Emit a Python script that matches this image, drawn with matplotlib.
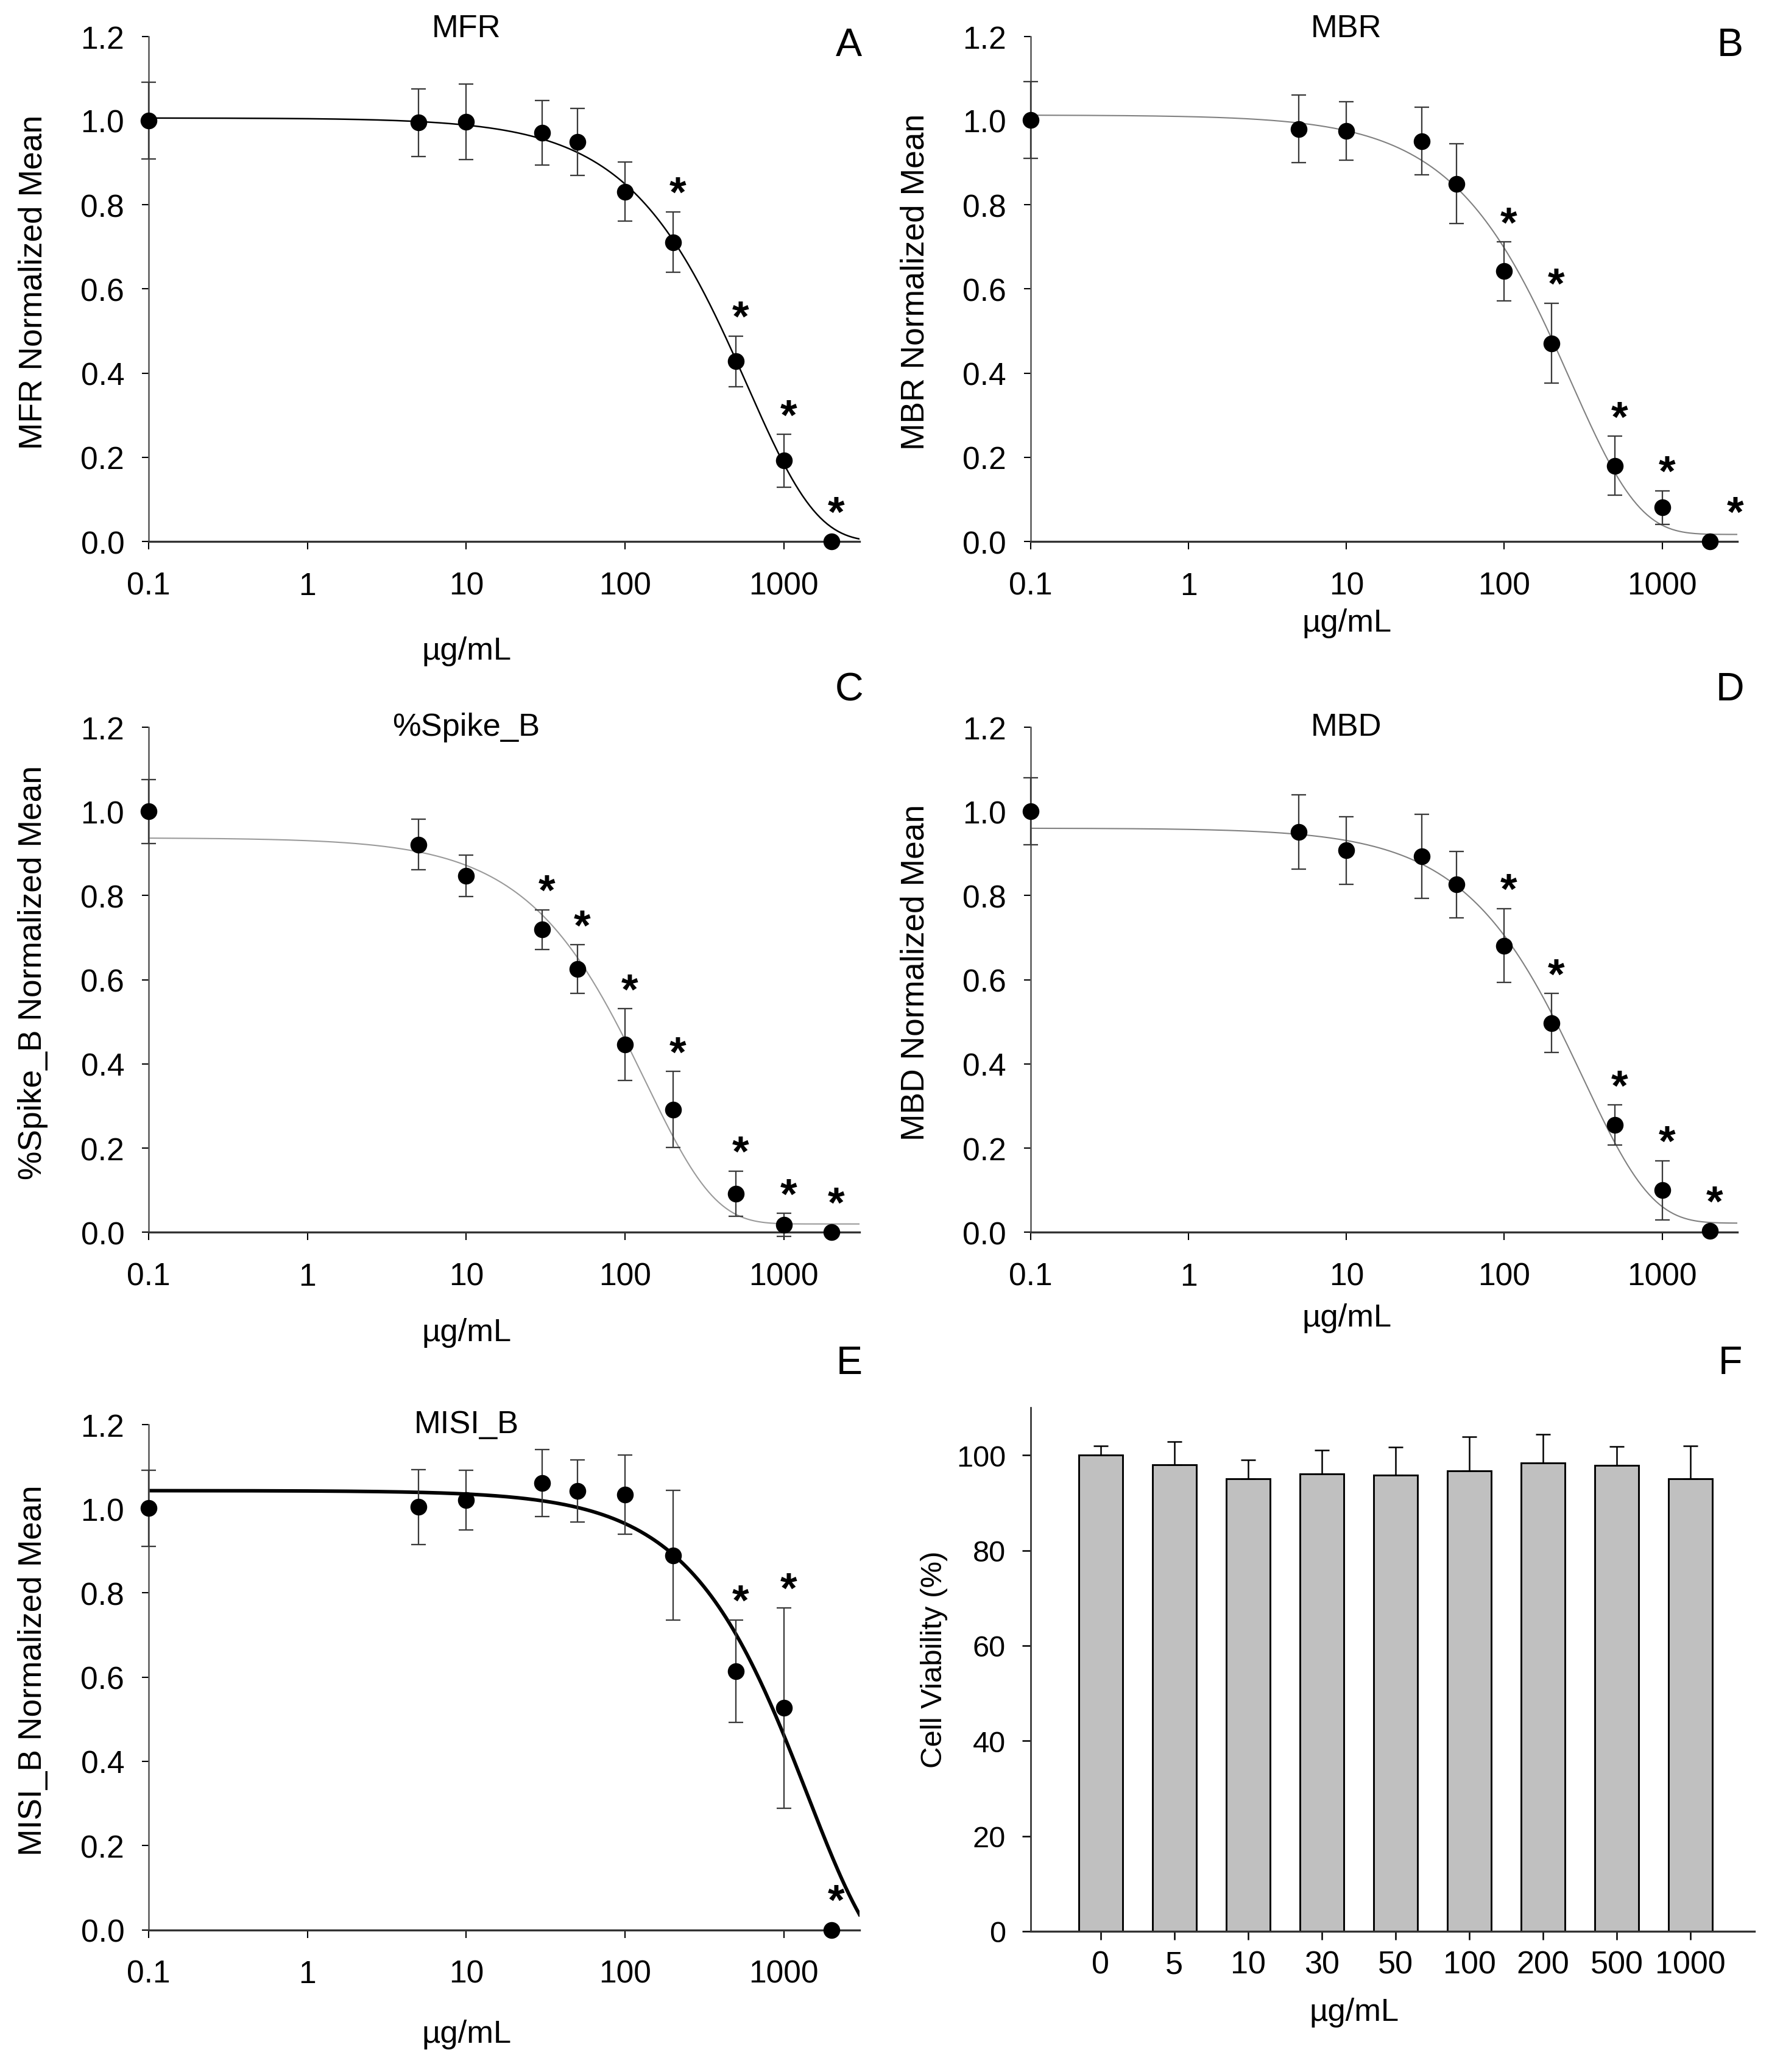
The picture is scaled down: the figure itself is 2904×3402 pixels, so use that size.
import numpy as np
import matplotlib
matplotlib.use('Agg')
import matplotlib.pyplot as plt
from matplotlib.transforms import offset_copy

plt.rcParams['font.family'] = ['Liberation Sans', 'DejaVu Sans']

# doses in ug/mL (0.1 stands for the untreated control on the log axis)
dose = [0.1, 5, 10, 30, 50, 100, 200, 500, 1000, 2000]

# A - MFR
mfr_mean = [1.000, 0.995, 0.997, 0.971, 0.949, 0.831, 0.711, 0.428, 0.192, 0.0]
mfr_err = [0.091, 0.080, 0.090, 0.077, 0.080, 0.070, 0.072, 0.060, 0.063, 0.0]
mfr_sig = [200, 500, 1000, 2000]
mfr_fit = [1.006, 0.0, 590.0]        # top, bottom, decay constant

# B - MBR
mbr_mean = [1.001, 0.980, 0.975, 0.951, 0.850, 0.642, 0.471, 0.180, 0.081, 0.0]
mbr_err = [0.091, 0.080, 0.069, 0.080, 0.095, 0.070, 0.095, 0.070, 0.040, 0.0]
mbr_sig = [100, 200, 500, 1000, 2000]
mbr_fit = [1.013, 0.017, 262.0]

# C - %Spike_B
spk_mean = [1.000, 0.921, 0.847, 0.719, 0.625, 0.446, 0.292, 0.092, 0.018, 0.0]
spk_err = [0.076, 0.060, 0.049, 0.047, 0.058, 0.085, 0.090, 0.054, 0.027, 0.0]
spk_sig = [30, 50, 100, 200, 500, 1000, 2000]
spk_fit = [0.937, 0.020, 135.0]

# D - MBD
mbd_mean = [1.000, 0.951, 0.907, 0.893, 0.826, 0.681, 0.497, 0.255, 0.100, 0.003]
mbd_err = [0.080, 0.088, 0.080, 0.100, 0.079, 0.088, 0.070, 0.048, 0.070, 0.0]
mbd_sig = [100, 200, 500, 1000, 2000]
mbd_fit = [0.960, 0.022, 315.0]

# E - MISI_B
misi_mean = [1.001, 1.004, 1.021, 1.061, 1.042, 1.034, 0.889, 0.614, 0.527, 0.0]
misi_err = [0.090, 0.089, 0.071, 0.080, 0.074, 0.094, 0.154, 0.122, 0.238, 0.0]
misi_sig = [500, 1000, 2000]
misi_fit = [1.043, -0.100, 1410.0]

# F - cell viability
via_labels = ['0', '5', '10', '30', '50', '100', '200', '500', '1000']
via_mean = [100.0, 98.0, 95.0, 96.1, 95.8, 96.7, 98.4, 97.8, 95.0]
via_err = [2.0, 4.9, 4.0, 4.9, 5.9, 7.1, 6.0, 4.0, 7.0]

panels = [
    # letter, rect, title, data, line colour, line width, xlabel y, title y
    ('A', [0.0841, 0.7384, 0.4018, 0.2438], 'MFR', mfr_mean, mfr_err, mfr_sig, mfr_fit, 'black', 0.6, -0.216, 1.016),
    ('B', [0.5826, 0.7384, 0.3996, 0.2438], 'MBR', mbr_mean, mbr_err, mbr_sig, mbr_fit, '#808080', 0.5, -0.161, 1.016),
    ('C', [0.0841, 0.4051, 0.4018, 0.2438], '%Spike_B', spk_mean, spk_err, spk_sig, spk_fit, '#9a9a9a', 0.5, -0.198, 1.0),
    ('D', [0.5826, 0.4051, 0.3996, 0.2438], 'MBD', mbd_mean, mbd_err, mbd_sig, mbd_fit, '#808080', 0.5, -0.169, 1.0),
    ('E', [0.0841, 0.0686, 0.4018, 0.2438], 'MISI_B', misi_mean, misi_err, misi_sig, misi_fit, 'black', 1.4, -0.206, 1.0),
]
letter_pos = {'A': (0.480, 0.978), 'B': (0.978, 0.978), 'C': (0.480, 0.667),
              'D': (0.978, 0.667), 'E': (0.480, 0.342), 'F': (0.978, 0.342)}

fig = plt.figure(figsize=(9.68, 11.3433), dpi=300)

for letter, rect, title, mean, err, sig, fit, lc, lw, xl_y, t_y in panels:
    ax = fig.add_axes(rect)
    ax.set_xscale('log')
    ax.set_xlim(0.1, 3000)
    ax.set_ylim(0, 1.2)

    # fitted decay curve
    top, bottom, k = fit
    xs = np.geomspace(0.1, 3000, 400)
    ax.plot(xs, bottom + (top - bottom) * np.exp(-xs / k), color=lc, lw=lw, zorder=2)

    ax.errorbar(dose, mean, yerr=err, fmt='o', color='black', ms=5.6,
                ecolor='#3a3a3a', elinewidth=0.55, capsize=2.8, capthick=0.55,
                clip_on=False, zorder=3)

    # significance stars
    tr = offset_copy(ax.transData, fig=fig, y=-0.58 * 17, units='points')
    for d in sig:
        i = dose.index(d)
        ys = mean[i] + max(err[i], 0.025) + 0.072
        xs_ = d * 1.07
        if letter == 'B' and d == 2000:
            xs_ = d * 1.45
        ax.text(xs_, ys, '*', fontsize=17, fontweight='bold', ha='center',
                va='baseline', transform=tr, clip_on=False)

    ax.set_xticks([0.1, 1, 10, 100, 1000])
    ax.set_xticklabels(['0.1', '1', '10', '100', '1000'])
    ax.minorticks_off()
    ax.set_yticks(np.arange(0, 1.21, 0.2))
    ax.set_yticklabels(['%.1f' % v for v in np.arange(0, 1.21, 0.2)])
    ax.tick_params(axis='both', direction='out', width=0.5, labelsize=12.4)
    ax.tick_params(axis='x', length=3.0, pad=8.6)
    ax.tick_params(axis='y', length=2.6, pad=7)
    for s in ['top', 'right']:
        ax.spines[s].set_visible(False)
    ax.spines['left'].set_color('#555555')
    ax.spines['left'].set_linewidth(0.6)
    ax.spines['bottom'].set_color('#333333')
    ax.spines['bottom'].set_linewidth(0.8)

    ax.text(10, t_y, title, transform=ax.get_xaxis_transform(), ha='center',
            va='center', fontsize=12.6)
    ax.set_xlabel('µg/mL', fontsize=12.6)
    ax.xaxis.set_label_coords(0.447, xl_y)
    ax.xaxis.label.set_va('center')
    ax.set_ylabel(title + ' Normalized Mean', fontsize=12.8)
    ax.yaxis.set_label_coords(-0.163, 0.515)
    ax.yaxis.label.set_va('center')

# F - bar chart
ax = fig.add_axes([0.5826, 0.0679, 0.4092, 0.2527])
pos = np.arange(len(via_labels))
ax.bar(pos, via_mean, width=0.6, color='#c0c0c0', edgecolor='black', linewidth=0.7, zorder=2)
ax.errorbar(pos, via_mean, yerr=[np.zeros(len(via_err)), via_err], fmt='none',
            ecolor='black', elinewidth=0.6, capsize=2.8, capthick=0.6, zorder=3)
ax.set_xlim(-0.95, 8.87)
ax.set_ylim(0, 110)
ax.set_xticks(pos)
ax.set_xticklabels(via_labels)
ax.set_yticks(np.arange(0, 101, 20))
ax.tick_params(axis='both', direction='out', length=3.3, width=0.6)
ax.tick_params(axis='x', pad=4, labelsize=12.5)
ax.tick_params(axis='y', pad=6.5, labelsize=11.7)
for s in ['top', 'right']:
    ax.spines[s].set_visible(False)
ax.spines['left'].set_color('#333333')
ax.spines['left'].set_linewidth(0.65)
ax.spines['bottom'].set_color('#333333')
ax.spines['bottom'].set_linewidth(0.8)
ax.set_xlabel('µg/mL', fontsize=12.6)
ax.xaxis.set_label_coords(0.447, -0.154)
ax.xaxis.label.set_va('center')
ax.set_ylabel('Cell Viability (%)', fontsize=11.8)
ax.yaxis.set_label_coords(-0.133, 0.52)
ax.yaxis.label.set_va('center')

for letter, (lx, ly) in letter_pos.items():
    fig.text(lx, ly, letter, fontsize=15.5, ha='center', va='center')

fig.savefig('out.png', dpi=300)
